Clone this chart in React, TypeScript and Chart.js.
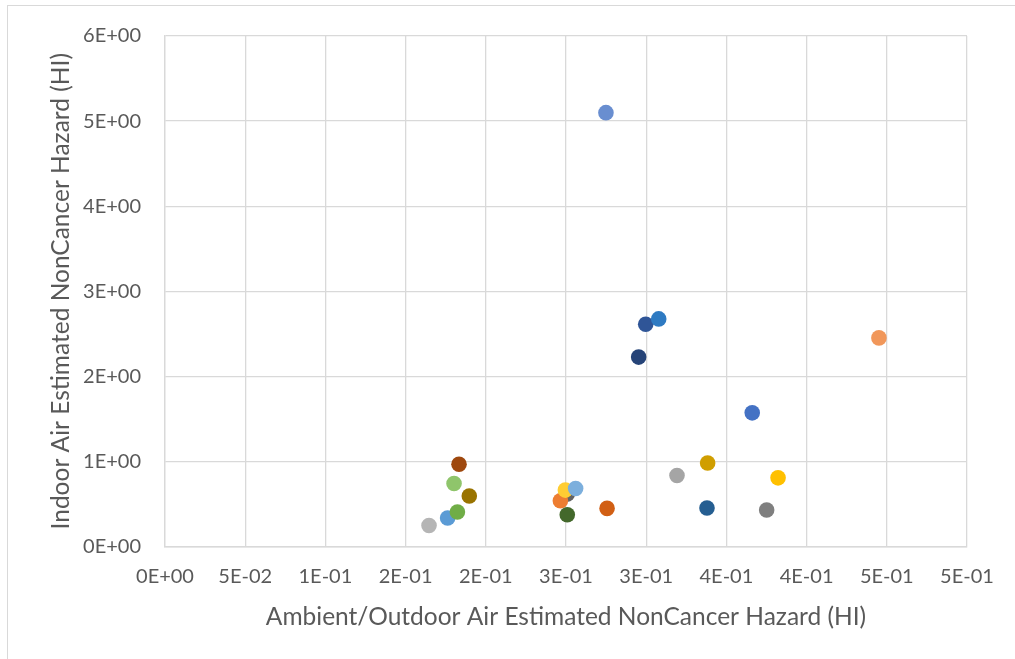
import React, { useEffect, useRef } from "react";
import { Chart, registerables } from "chart.js";

Chart.register(...registerables);

// Ambient/outdoor HI (x) and indoor HI (y) for each location, one point each
const xValues = [
  0.1646, 0.1762, 0.1823, 0.1802, 0.1833, 0.1897, 0.2508, 0.2465, 0.2496, 0.256, 0.2508, 0.2756,
  0.2749, 0.2997, 0.3078, 0.2953, 0.3192, 0.3383, 0.3379, 0.3661, 0.3751, 0.3822, 0.4451,
];
const yValues = [
  0.246, 0.335, 0.406, 0.74, 0.967, 0.593, 0.616, 0.538, 0.663, 0.682, 0.374, 0.448,
  5.099, 2.612, 2.675, 2.226, 0.834, 0.982, 0.452, 1.571, 0.429, 0.807, 2.452,
];
const pointColors = [
  "#b5b5b5", "#5b9bd5", "#70ad47", "#8fc56b", "#9e480e", "#997300", "#636363", "#ed7d31",
  "#ffcd33", "#7cafdd", "#43682b", "#d15f14", "#698ed0", "#2f5597", "#2e7ac2", "#264478",
  "#a5a5a5", "#d09e00", "#255e91", "#4472c4", "#7f7f7f", "#ffc000", "#f1975a",
];

const xTickLabels = [
  "0E+00", "5E-02", "1E-01", "2E-01", "2E-01", "3E-01", "3E-01", "4E-01", "4E-01", "5E-01", "5E-01",
];
const yTickLabels = ["0E+00", "1E+00", "2E+00", "3E+00", "4E+00", "5E+00", "6E+00"];

const xTitle = "Ambient/Outdoor Air Estimated NonCancer Hazard (HI)";
const yTitle = "Indoor Air Estimated NonCancer Hazard (HI)";

const FONT = "Lato, 'Open Sans', sans-serif";
const TEXT = "#595959";
const GRID = "#d9d9d9";

export default function App() {
  const ref = useRef<HTMLCanvasElement | null>(null);

  useEffect(() => {
    if (!ref.current) return;
    const points = xValues.map((x, i) => ({ x, y: yValues[i] }));
    const chart = new Chart(ref.current, {
      type: "scatter",
      data: {
        datasets: [
          {
            data: points,
            backgroundColor: pointColors,
            borderWidth: 0,
            pointRadius: 7.8,
            pointHoverRadius: 7.8,
          },
        ],
      },
      options: {
        responsive: false,
        animation: false,
        events: [],
        layout: { padding: { top: 34, right: 48, bottom: 0, left: 0 } },
        plugins: { legend: { display: false }, tooltip: { enabled: false } },
        scales: {
          x: {
            type: "linear",
            min: 0,
            max: 0.5,
            afterFit: (s: any) => {
              s.height = 112.5;
            },
            ticks: {
              stepSize: 0.05,
              autoSkip: false,
              maxRotation: 0,
              padding: 18.5,
              color: TEXT,
              font: { family: FONT, size: 20, lineHeight: 1.2 },
              callback: (_v: any, i: number) => xTickLabels[i],
            },
            grid: { color: GRID, lineWidth: 1.3, drawTicks: false },
            border: { color: GRID, width: 1.5 },
            title: {
              display: true,
              text: xTitle,
              color: TEXT,
              font: { family: FONT, size: 24.5, lineHeight: 1.2 },
              padding: { top: 0, bottom: 27.3 },
            },
          },
          y: {
            type: "linear",
            min: 0,
            max: 6,
            afterFit: (s: any) => {
              s.width = 165;
            },
            ticks: {
              stepSize: 1,
              padding: 24,
              color: TEXT,
              font: { family: FONT, size: 20, lineHeight: 1.2 },
              callback: (_v: any, i: number) => yTickLabels[i],
            },
            grid: { color: GRID, lineWidth: 1.3, drawTicks: false },
            border: { color: GRID, width: 1.3 },
            title: {
              display: true,
              text: yTitle,
              color: TEXT,
              font: { family: FONT, size: 24.5, lineHeight: 1.2 },
              padding: { top: 46.3, bottom: 0 },
            },
          },
        },
      },
    });
    return () => chart.destroy();
  }, []);

  return (
    <div style={{ position: "absolute", left: 0, top: 0, width: 1015, height: 659, overflow: "hidden", background: "#fff" }}>
      <div
        style={{
          position: "absolute",
          left: 7,
          top: 5,
          width: 1008,
          height: 654,
          borderTop: "1px solid #d9d9d9",
          borderLeft: "1px solid #d9d9d9",
          boxSizing: "border-box",
        }}
      />
      <canvas ref={ref} width={1015} height={659} style={{ position: "absolute", left: 0, top: 0 }} />
    </div>
  );
}
